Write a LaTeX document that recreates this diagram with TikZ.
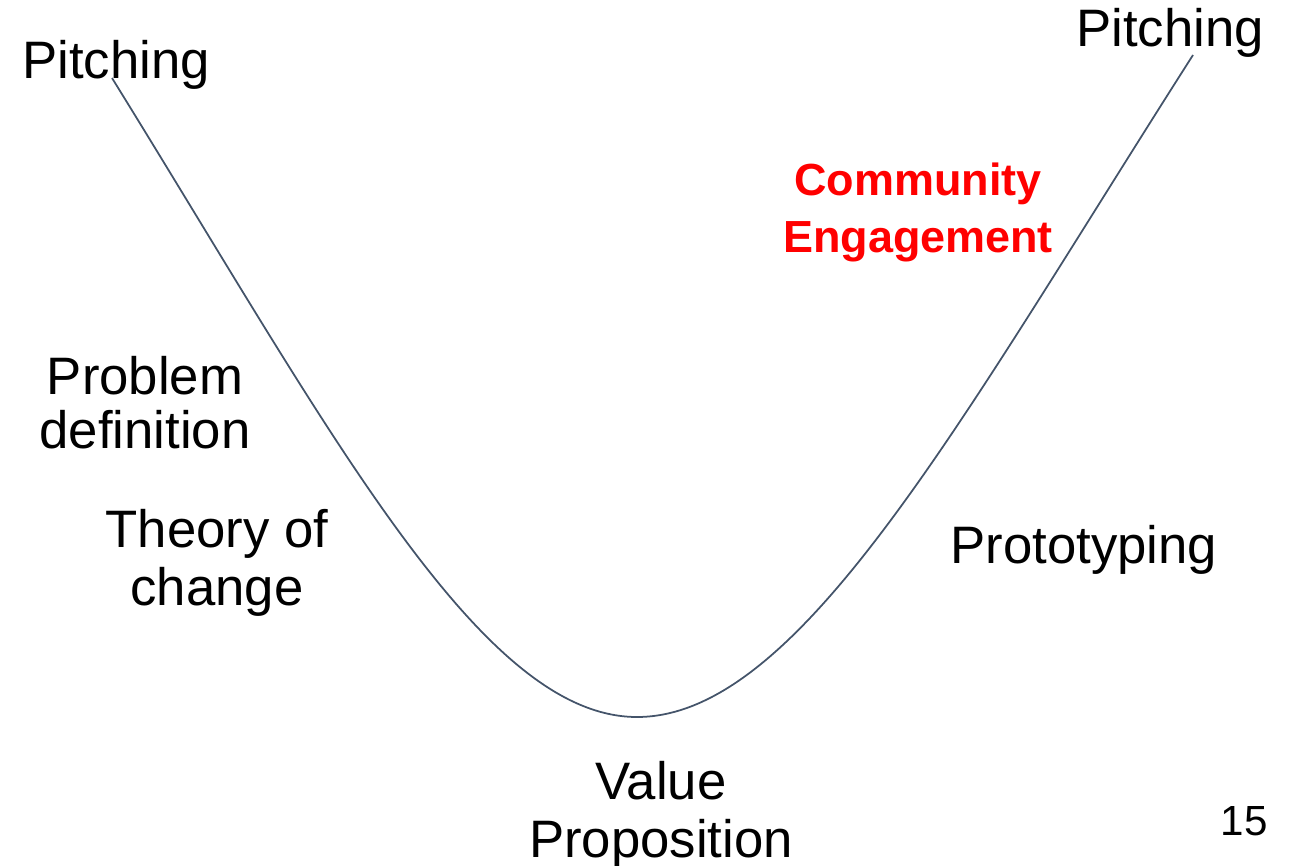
\documentclass[tikz,border=0pt]{standalone}
\usepackage{fontspec}
\setmainfont{Liberation Sans}
\usetikzlibrary{positioning}
\definecolor{slate}{HTML}{44546A}
\definecolor{hotred}{HTML}{FF0000}

\begin{document}
\begin{tikzpicture}[x=0.02cm,y=-0.02cm]
        \tikzset{label/.style= {align=center,inner sep=0pt,anchor=base,font=\fontsize{30}{33}\selectfont},
        redlabel/.style={label,text=hotred,font=\fontsize{25.6}{32}\selectfont\bfseries},
        vcurve/.style={draw=slate,line width=1pt},
        }
        \useasboundingbox (0,0) rectangle (1293,865);
        \node [label] (pitchleft) at (116,78) {Pitching};
        \node [label] (pitchright) at (1170,47) {Pitching};
        \node [label,font=\fontsize{30}{30.5}\selectfont] (problem) at (145,448) {Problem\\definition};
        \node [label] (theory) at (217,605) {Theory of\\change};
        \node [label] (proto) at (1084,563) {Prototyping};
        \node [label] (value) at (661,857) {Value\\Proposition};
        \node [redlabel] (community) at (918,252) {Community\\Engagement};
        \node [label,font=\fontsize{24}{28}\selectfont] (page) at (1244,835) {15};
        \coordinate (curveleft) at (112,78);
        \coordinate (curvebottom) at (637,717);
        \coordinate (curveright) at (1193,55);
%% paths
        \path[vcurve] (curveleft) .. controls (330,430) and (480,717) .. (curvebottom)
                    .. controls (800,717) and (960,420) .. (curveright);
    \end{tikzpicture}
\end{document}
